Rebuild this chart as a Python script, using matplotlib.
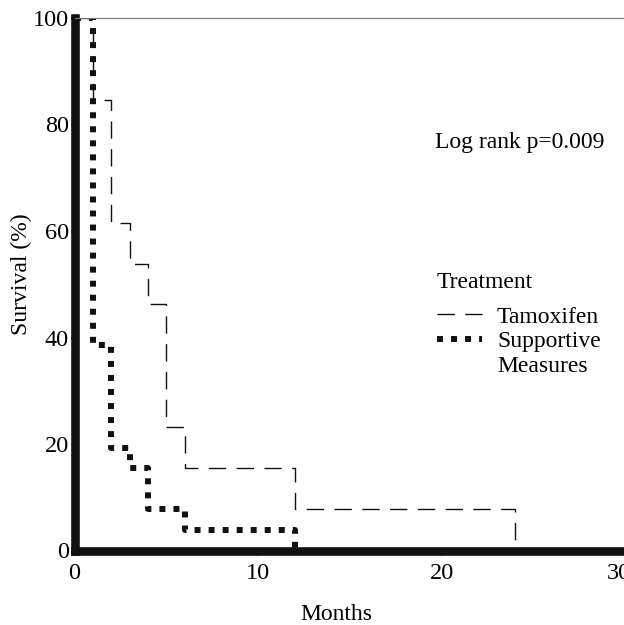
import matplotlib
matplotlib.use('Agg')
import matplotlib.pyplot as plt
import matplotlib.transforms as mtransforms
from matplotlib.lines import Line2D

# Kaplan-Meier steps
months_tam = [0, 1, 2, 3, 4, 5, 6, 12, 24]
surv_tam = [100, 84.6, 61.5, 53.8, 46.2, 23.1, 15.4, 7.7, 0]
months_sup = [0, 1, 2, 3, 4, 6, 12]
surv_sup = [100, 38.5, 19.2, 15.4, 7.7, 3.8, 0]

x_ticks = [0, 10, 20, 30]
y_ticks = [0, 20, 40, 60, 80, 100]
group_labels = ['Tamoxifen', 'Supportive', 'Measures']

plt.rcParams['font.family'] = ['Liberation Serif', 'DejaVu Serif']
plt.rcParams['font.size'] = 17

fig = plt.figure(figsize=(6.24, 6.25), dpi=100)
ax = fig.add_axes([74.5/624, 1-550.5/625, 551/624, (550.5-18)/625])

tam_style = dict(color='#111111', lw=1.0, linestyle=(0, (12.5, 7.5)))
sup_style = dict(color='#111111', lw=4.3, linestyle=(0, (1.0, 1.35)))

ax.step(months_tam, surv_tam, where='post', **tam_style)
ax.step(months_sup, surv_sup, where='post', **sup_style)

ax.set_xlim(0, 30)
ax.set_ylim(0, 100)
ax.set_xticks(x_ticks)
ax.set_yticks(y_ticks)

for s in ['left', 'bottom']:
    ax.spines[s].set_linewidth(6.2)
    ax.spines[s].set_color('#111111')
ax.spines['top'].set_linewidth(0.8)
ax.spines['top'].set_color('#777777')
ax.spines['right'].set_visible(False)

ax.tick_params(axis='both', direction='out', length=3, width=2.5, color='#111111',
               labelsize=17.5)
ax.tick_params(axis='y', pad=1)
ax.tick_params(axis='x', pad=6)

# the last x label sits a bit left in the original
fig.canvas.draw()
last = ax.get_xticklabels()[-1]
last.set_transform(last.get_transform() +
                   mtransforms.ScaledTranslation(-7/100, 0, fig.dpi_scale_trans))

ax.set_xlabel('Months', fontsize=17)
ax.set_ylabel('Survival (%)', fontsize=17)
ax.xaxis.label.set_va('baseline')
ax.xaxis.set_label_coords(0.476, -0.1305)
ax.yaxis.label.set_va('center')
ax.yaxis.set_label_coords(-0.096, 0.519)

ax.text(0.654, 0.756, 'Log rank p=0.009', transform=ax.transAxes, fontsize=17,
        ha='left', va='baseline')
ax.text(0.658, 0.493, 'Treatment', transform=ax.transAxes, fontsize=17,
        ha='left', va='baseline')

# second line of the "Supportive Measures" label gets an empty handle
handles = [Line2D([], [], **tam_style), Line2D([], [], **sup_style),
           Line2D([], [], linestyle='none')]
leg = ax.legend(handles, group_labels, frameon=False, loc='upper left',
                bbox_to_anchor=(0.658, 0.459), fontsize=17,
                handlelength=1.9, handletextpad=0.64, labelspacing=0.14,
                borderpad=0, borderaxespad=0)

fig.savefig('out.png', dpi=100)
